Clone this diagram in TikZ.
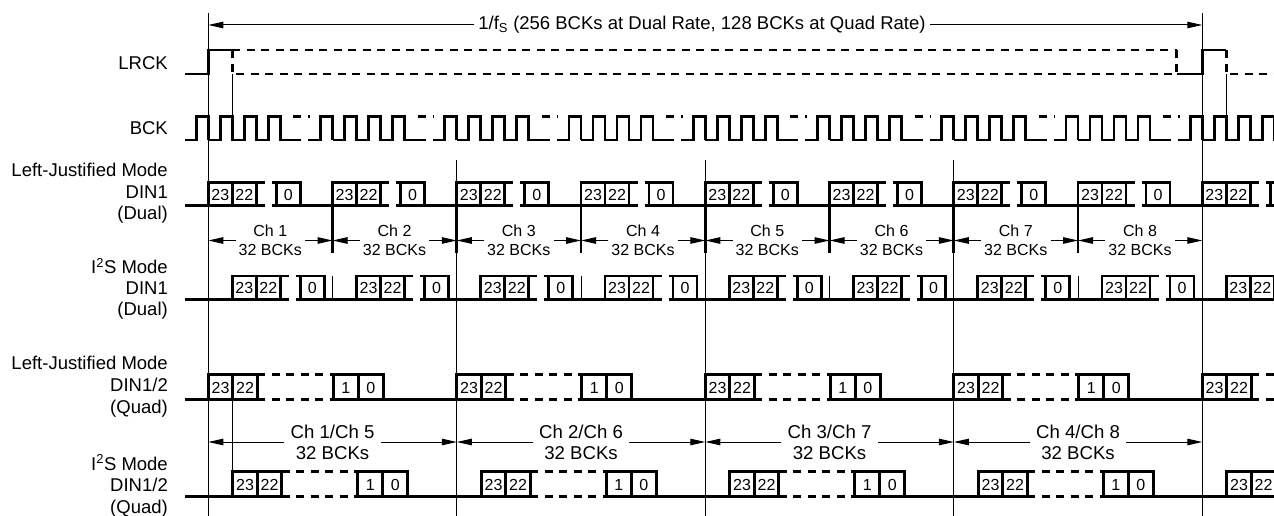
\documentclass[tikz,border=0pt]{standalone}
\usepackage{fontspec}
\setmainfont{Liberation Sans}
\usetikzlibrary{arrows.meta}
\begin{document}
\begin{tikzpicture}[x=1pt,y=-1pt,
  sig/.style={line width=2.7pt},
  dsig/.style={line width=2.7pt, dash pattern=on 8pt off 6.5pt},
  thin/.style={line width=1pt},
  lbl/.style={anchor=base east, inner sep=0pt, font=\fontsize{18.5}{20}\selectfont},
  dig/.style={inner sep=0pt, font=\fontsize{16}{18}\selectfont},
  dtext/.style={align=center, inner ysep=0pt, inner xsep=3pt, font=\fontsize{16}{19.3}\selectfont},
  qtext/.style={align=center, inner ysep=0pt, inner xsep=6pt, font=\fontsize{18.6}{20.7}\selectfont},
  dim/.style={thin, -{Triangle[length=15pt,width=6.5pt]}},
]
\useasboundingbox (0,0) rectangle (1274,516);
\begin{scope}
\clip (0,0) rectangle (1274,516);

% ---------- labels ----------
\node[lbl] (lLRCK) at (168,70) {LRCK};
\node[lbl] (lBCK) at (168,135) {BCK};
\node[lbl] (l1a) at (168,176.7) {Left-Justified Mode};
\node[lbl] (l1b) at (168,198.3) {DIN1};
\node[lbl] (l1c) at (168,219.5) {(Dual)};
\node[lbl] (l2a) at (168,273.3) {I\textsuperscript{2}S Mode};
\node[lbl] (l2b) at (168,294) {DIN1};
\node[lbl] (l2c) at (168,315) {(Dual)};
\node[lbl] (l3a) at (168,369.3) {Left-Justified Mode};
\node[lbl] (l3b) at (168,391.7) {DIN1/2};
\node[lbl] (l3c) at (168,413.3) {(Quad)};
\node[lbl] (l4a) at (168,470) {I\textsuperscript{2}S Mode};
\node[lbl] (l4b) at (168,491.7) {DIN1/2};
\node[lbl] (l4c) at (168,513) {(Quad)};

% ---------- frame lines ----------
\draw[thin] (208.3,13) -- (208.3,516);
\draw[thin] (1202.3,13) -- (1202.3,516);
\foreach \k in {1,2,3} {
  \pgfmathsetmacro{\q}{208.3+248.5*\k}
  \draw[thin] (\q,160) -- (\q,516);
}

% ---------- period arrow ----------
\node[inner xsep=4pt, inner ysep=0pt, font=\fontsize{18.5}{20}\selectfont] (period) at (702,25)
  {1/f\textsubscript{S} (256 BCKs at Dual Rate, 128 BCKs at Quad Rate)};
\coordinate (pL) at (208.3,25);
\coordinate (pR) at (1202.3,25);
\draw[dim] (period.west) -- (pL);
\draw[dim] (period.east) -- (pR);

% ---------- LRCK ----------
\draw[sig] (185,74) -- (208.3,74) -- (208.3,50) -- (232.3,50);
\draw[dsig] (232.3,50) -- (232.3,74);
\draw[dsig] (232.3,50) -- (1176.7,50);
\draw[dsig] (236,74) -- (1176.7,74);
\draw[dsig] (1176.7,50) -- (1176.7,74);
\draw[sig] (1176.7,74) -- (1202.3,74) -- (1202.3,50) -- (1226.3,50);
\draw[dsig] (1226.3,50) -- (1226.3,74);
\draw[dsig] (1230,74) -- (1280,74);
\draw[thin] (232.3,74) -- (232.3,140);
\draw[thin] (1226.3,74) -- (1226.3,140);

% ---------- BCK ----------
\draw[sig] (185,140) -- (196.3,140) -- (196.3,116.5) -- (208.3,116.5) -- (208.3,140);
\foreach \k in {0,...,8} {
  \pgfmathsetmacro{\c}{208.3+124.25*\k}
  \draw[sig] (\c,140) -- ({\c+12},140) -- ({\c+12},116.5) -- ({\c+24},116.5) -- ({\c+24},140)
    -- ({\c+36},140) -- ({\c+36},116.5) -- ({\c+48},116.5) -- ({\c+48},140)
    -- ({\c+60},140) -- ({\c+60},116.5) -- ({\c+72},116.5) -- ({\c+72},140) -- ({\c+93},140);
  \draw[sig] ({\c+85},116.5) -- ({\c+93},116.5);
  \draw[sig] ({\c+100},116.5) -- ({\c+101.5},116.5);
  \draw[sig] ({\c+100},140) -- ({\c+112.25},140) -- ({\c+112.25},116.5) -- ({\c+124.25},116.5) -- ({\c+124.25},140);
}

% ---------- Row 1: Left-justified dual ----------
\draw[sig] (185,205.5) -- (208.3,205.5);
\foreach \k in {0,...,8} {
  \pgfmathsetmacro{\c}{208.3+124.25*\k}
  \pgfmathtruncatemacro{\ok}{\c+80<1270}
  \draw[sig] (\c,205.5) -- (\c,182.3) -- ({\c+56.5},182.3);
  \draw[sig] (\c,205.5) -- ({\c+56.5},205.5);
  \draw[sig] ({\c+24},182.3) -- ({\c+24},205.5);
  \draw[sig] ({\c+48},182.3) -- ({\c+48},205.5);
  \draw[sig] ({\c+63.5},182.3) -- ({\c+92},182.3) -- ({\c+92},205.5) -- ({\c+124.25},205.5);
  \draw[sig] ({\c+63.5},205.5) -- ({\c+92},205.5);
  \draw[sig] ({\c+68},182.3) -- ({\c+68},205.5);
  \node[dig] at ({\c+12},194.5) {23};
  \node[dig] at ({\c+36},194.5) {22};
  \ifnum\ok=1 \node[dig] at ({\c+80},194.5) {0};\fi
}
\foreach \k in {1,...,7} {
  \pgfmathsetmacro{\c}{208.3+124.25*\k}
  \draw[sig] (\c,182.3) -- (\c,253);
}

% ---------- dual channel arrows ----------
\foreach \k in {0,...,7} {
  \pgfmathsetmacro{\c}{208.3+124.25*\k}
  \pgfmathtruncatemacro{\n}{\k+1}
  \node[dtext] (dch\k) at ({\c+62},240.5) {Ch \n\\32 BCKs};
  \coordinate (dl\k) at (\c,240.5);
  \coordinate (dr\k) at ({\c+124.25},240.5);
  \draw[dim] (dch\k.west) -- (dl\k);
  \draw[dim] (dch\k.east) -- (dr\k);
}

% ---------- Row 2: I2S dual ----------
\draw[sig] (185,299.2) -- (232.3,299.2);
\foreach \k in {0,...,8} {
  \pgfmathsetmacro{\c}{232.3+124.25*\k}
  \pgfmathtruncatemacro{\ok}{\c+80<1270}
  \draw[sig] (\c,299.2) -- (\c,276) -- ({\c+56.5},276);
  \draw[sig] (\c,299.2) -- ({\c+56.5},299.2);
  \draw[sig] ({\c+24},276) -- ({\c+24},299.2);
  \draw[sig] ({\c+48},276) -- ({\c+48},299.2);
  \draw[sig] ({\c+63.5},276) -- ({\c+92},276) -- ({\c+92},299.2) -- ({\c+124.25},299.2);
  \draw[sig] ({\c+63.5},299.2) -- ({\c+92},299.2);
  \draw[sig] ({\c+68},276) -- ({\c+68},299.2);
  \node[dig] at ({\c+12},288) {23};
  \node[dig] at ({\c+36},288) {22};
  \ifnum\ok=1 \node[dig] at ({\c+80},288) {0};\fi
}
\foreach \k in {1,3,5,7} {
  \pgfmathsetmacro{\c}{208.3+124.25*\k}
  \draw[thin] (\c,276) -- (\c,298);
}

% ---------- Row 3: Left-justified quad ----------
\draw[sig] (185,399.3) -- (208.3,399.3);
\foreach \k in {0,...,4} {
  \pgfmathsetmacro{\q}{208.3+248.5*\k}
  \pgfmathtruncatemacro{\ok}{\q+160<1270}
  \draw[sig] (\q,399.3) -- (\q,374.3) -- ({\q+49},374.3);
  \draw[sig] (\q,399.3) -- ({\q+49},399.3);
  \draw[dsig] ({\q+49},374.3) -- ({\q+125},374.3);
  \draw[dsig] ({\q+49},399.3) -- ({\q+125},399.3);
  \draw[sig] ({\q+125},399.3) -- ({\q+125},374.3) -- ({\q+175},374.3) -- ({\q+175},399.3);
  \draw[sig] ({\q+125},399.3) -- ({\q+248.5},399.3);
  \draw[sig] ({\q+24.5},374.3) -- ({\q+24.5},399.3);
  \draw[sig] ({\q+49},374.3) -- ({\q+49},399.3);
  \draw[sig] ({\q+150},374.3) -- ({\q+150},399.3);
  \node[dig] at ({\q+12.25},388) {23};
  \node[dig] at ({\q+36.75},388) {22};
  \ifnum\ok=1
    \node[dig] at ({\q+137.5},388) {1};
    \node[dig] at ({\q+162.5},388) {0};
  \fi
}
\draw[thin] (232.8,374.3) -- (232.8,471.7);

% ---------- quad channel arrows ----------
\foreach \k/\a/\b in {0/1/5,1/2/6,2/3/7,3/4/8} {
  \pgfmathsetmacro{\q}{208.3+248.5*\k}
  \node[qtext] (qch\k) at ({\q+124.25},442) {Ch \a/Ch \b\\32 BCKs};
  \coordinate (ql\k) at (\q,442);
  \coordinate (qr\k) at ({\q+248.5},442);
  \draw[dim] (qch\k.west) -- (ql\k);
  \draw[dim] (qch\k.east) -- (qr\k);
}

% ---------- Row 4: I2S quad ----------
\draw[sig] (185,496.3) -- (232.8,496.3);
\foreach \k in {0,...,4} {
  \pgfmathsetmacro{\q}{232.8+248.5*\k}
  \pgfmathtruncatemacro{\ok}{\q+160<1270}
  \draw[sig] (\q,496.3) -- (\q,471.7) -- ({\q+49},471.7);
  \draw[sig] (\q,496.3) -- ({\q+49},496.3);
  \draw[dsig] ({\q+49},471.7) -- ({\q+125},471.7);
  \draw[dsig] ({\q+49},496.3) -- ({\q+125},496.3);
  \draw[sig] ({\q+125},496.3) -- ({\q+125},471.7) -- ({\q+175},471.7) -- ({\q+175},496.3);
  \draw[sig] ({\q+125},496.3) -- ({\q+248.5},496.3);
  \draw[sig] ({\q+24.5},471.7) -- ({\q+24.5},496.3);
  \draw[sig] ({\q+49},471.7) -- ({\q+49},496.3);
  \draw[sig] ({\q+150},471.7) -- ({\q+150},496.3);
  \node[dig] at ({\q+12.25},485) {23};
  \node[dig] at ({\q+36.75},485) {22};
  \ifnum\ok=1
    \node[dig] at ({\q+137.5},485) {1};
    \node[dig] at ({\q+162.5},485) {0};
  \fi
}
\end{scope}
\end{tikzpicture}
\end{document}
